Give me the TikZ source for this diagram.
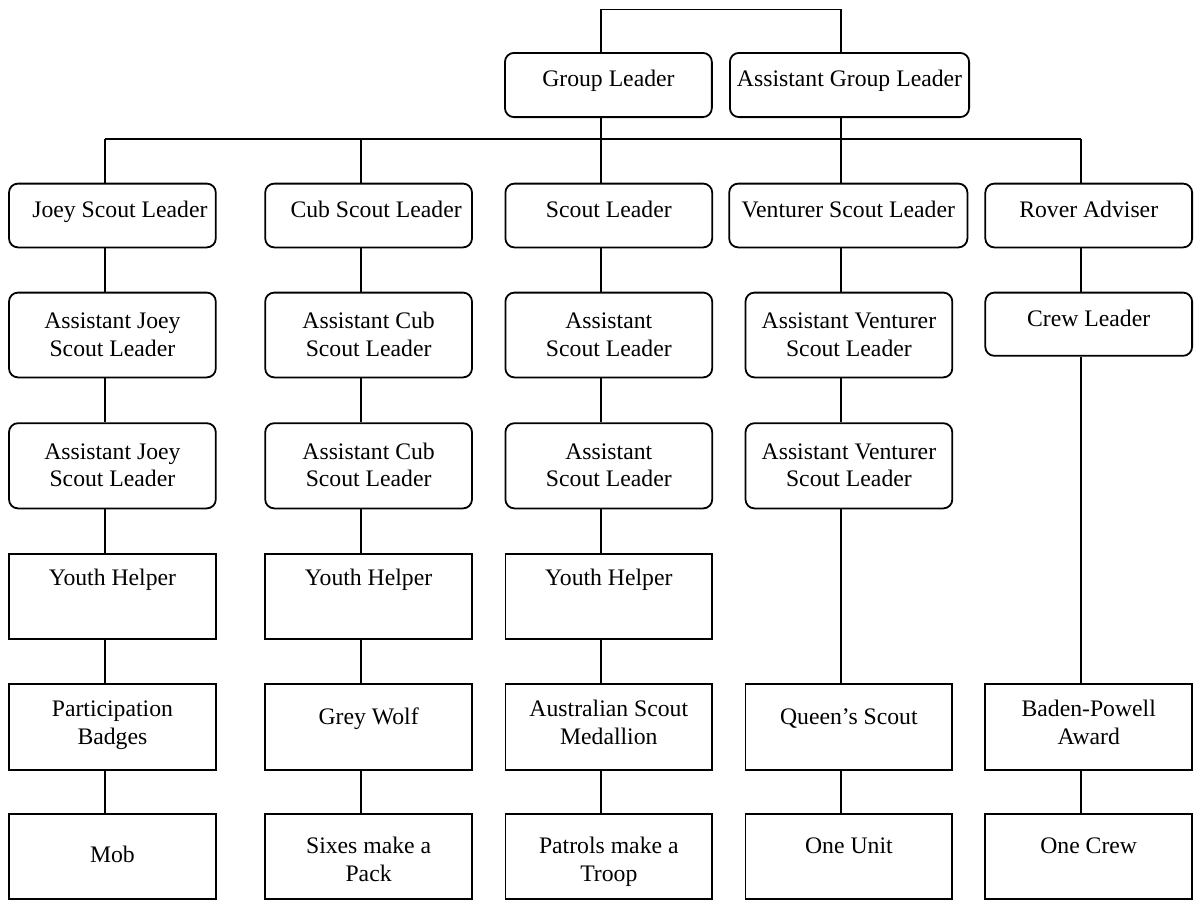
\documentclass[tikz,border=0pt]{standalone}
\usepackage{fontspec}
\setmainfont{Liberation Serif}
\newcommand\Tst{\rule{0pt}{17pt}}
\begin{document}
\begin{tikzpicture}[x=1pt,y=-1pt,
  rbox/.style={draw, rounded corners=9pt, line width=1.8pt, inner sep=0pt, minimum width=206.8pt},
  sbox/.style={draw, line width=1.8pt, inner sep=0pt, minimum width=206.8pt},
  link/.style={line width=1.7pt},
  txt/.style={anchor=north, inner sep=0pt, align=center, font=\fontsize{23.7}{27.6}\selectfont}]
\useasboundingbox (0,0) rectangle (1195,900);
% column line positions
\coordinate (c1) at (105,0);
\coordinate (c2) at (360.7,0);
\coordinate (c3) at (600.8,0);
\coordinate (c4) at (840.8,0);
\coordinate (c5) at (1080.8,0);
\coordinate (topbar) at (0,9.5);
\coordinate (midbar) at (0,139.3);
% top row
\node[rbox, minimum width=206.9pt, minimum height=64.2pt] (gl) at (608.4,85) {};
\node[rbox, minimum width=239.2pt, minimum height=64.2pt] (agl) at (849.5,85) {};
% leaders row
\node[rbox, minimum height=63.8pt] (joey) at (112.4,215.5) {};
\node[rbox, minimum height=63.8pt] (cub) at (368.6,215.5) {};
\node[rbox, minimum height=63.8pt] (scout) at (608.8,215.5) {};
\node[rbox, minimum width=238.2pt, minimum height=63.8pt] (vent) at (848.3,215.5) {};
\node[rbox, minimum height=63.8pt] (rover) at (1088.7,215.5) {};
% row 3
\node[rbox, minimum height=84.8pt] (ajoey1) at (112.4,335) {};
\node[rbox, minimum height=84.8pt] (acub1) at (368.6,335) {};
\node[rbox, minimum height=84.8pt] (ascout1) at (608.8,335) {};
\node[rbox, minimum height=84.8pt] (avent1) at (848.9,335) {};
\node[rbox, minimum height=63.2pt] (crew) at (1088.7,324.2) {};
% row 4
\node[rbox, minimum height=85.2pt] (ajoey2) at (112.4,465.8) {};
\node[rbox, minimum height=85.2pt] (acub2) at (368.6,465.8) {};
\node[rbox, minimum height=85.2pt] (ascout2) at (608.8,465.8) {};
\node[rbox, minimum height=85.2pt] (avent2) at (848.9,465.8) {};
% row 5
\node[sbox, minimum height=85pt] (yh1) at (112.4,596.1) {};
\node[sbox, minimum height=85pt] (yh2) at (368.6,596.1) {};
\node[sbox, minimum height=85pt] (yh3) at (608.8,596.1) {};
% row 6
\node[sbox, minimum height=85.6pt] (part) at (112.4,727) {};
\node[sbox, minimum height=85.6pt] (grey) at (368.6,727) {};
\node[sbox, minimum height=85.6pt] (medal) at (608.8,727) {};
\node[sbox, minimum height=85.6pt] (queen) at (848.9,727) {};
\node[sbox, minimum height=85.6pt] (bp) at (1088.7,727) {};
% row 7
\node[sbox, minimum height=84.6pt] (mob) at (112.4,856.6) {};
\node[sbox, minimum height=84.6pt] (pack) at (368.6,856.6) {};
\node[sbox, minimum height=84.6pt] (troop) at (608.8,856.6) {};
\node[sbox, minimum height=84.6pt] (unit) at (848.9,856.6) {};
\node[sbox, minimum height=84.6pt] (ocrew) at (1088.7,856.6) {};
% texts
\node[txt] (tgl) at ([yshift=-17pt]gl.north) {\Tst Group Leader};
\node[txt] (tagl) at ([yshift=-17pt]agl.north) {\Tst Assistant Group Leader};
\node[txt] (tjoey) at ([yshift=-18pt,xshift=7.5pt]joey.north) {\Tst Joey Scout Leader};
\node[txt] (tcub) at ([yshift=-18pt,xshift=7.5pt]cub.north) {\Tst Cub Scout Leader};
\node[txt] (tscout) at ([yshift=-18pt]scout.north) {\Tst Scout Leader};
\node[txt] (tvent) at ([yshift=-18pt]vent.north) {\Tst Venturer Scout Leader};
\node[txt] (trover) at ([yshift=-18pt]rover.north) {\Tst Rover Adviser};
\node[txt] (tajoey1) at ([yshift=-19.6pt]ajoey1.north) {\Tst Assistant Joey\\Scout Leader};
\node[txt] (tacub1) at ([yshift=-19.6pt]acub1.north) {\Tst Assistant Cub\\Scout Leader};
\node[txt] (tascout1) at ([yshift=-19.6pt]ascout1.north) {\Tst Assistant\\Scout Leader};
\node[txt] (tavent1) at ([yshift=-19.6pt]avent1.north) {\Tst Assistant Venturer\\Scout Leader};
\node[txt] (tcrew) at ([yshift=-18pt]crew.north) {\Tst Crew Leader};
\node[txt] (tajoey2) at ([yshift=-19.6pt]ajoey2.north) {\Tst Assistant Joey\\Scout Leader};
\node[txt] (tacub2) at ([yshift=-19.6pt]acub2.north) {\Tst Assistant Cub\\Scout Leader};
\node[txt] (tascout2) at ([yshift=-19.6pt]ascout2.north) {\Tst Assistant\\Scout Leader};
\node[txt] (tavent2) at ([yshift=-19.6pt]avent2.north) {\Tst Assistant Venturer\\Scout Leader};
\node[txt] (tyh1) at ([yshift=-16pt]yh1.north) {\Tst Youth Helper};
\node[txt] (tyh2) at ([yshift=-16pt]yh2.north) {\Tst Youth Helper};
\node[txt] (tyh3) at ([yshift=-16pt]yh3.north) {\Tst Youth Helper};
\node[txt] (tpart) at ([yshift=-16.4pt]part.north) {\Tst Participation\\Badges};
\node[txt] (tgrey) at ([yshift=-23.5pt]grey.north) {\Tst Grey Wolf};
\node[txt] (tmedal) at ([yshift=-16.4pt]medal.north) {\Tst Australian Scout\\Medallion};
\node[txt] (tqueen) at ([yshift=-23.5pt]queen.north) {\Tst Queen’s Scout};
\node[txt] (tbp) at ([yshift=-16.4pt]bp.north) {\Tst Baden-Powell\\Award};
\node[txt] (tmob) at ([yshift=-31.7pt]mob.north) {\Tst Mob};
\node[txt] (tpack) at ([yshift=-23pt]pack.north) {\Tst Sixes make a\\Pack};
\node[txt] (ttroop) at ([yshift=-23pt]troop.north) {\Tst Patrols make a\\Troop};
\node[txt] (tunit) at ([yshift=-23pt]unit.north) {\Tst One Unit};
\node[txt] (tocrew) at ([yshift=-23pt]ocrew.north) {\Tst One Crew};
% connectors
\draw[link] (gl.north -| c3) -- (c3 |- topbar) -- (c4 |- topbar) -- (agl.north -| c4);
\draw[link] (c1 |- midbar) -- (c5 |- midbar);
\draw[link] (gl.south -| c3) -- (scout.north -| c3);
\draw[link] (agl.south -| c4) -- (vent.north -| c4);
\draw[link] (c1 |- midbar) -- (joey.north -| c1);
\draw[link] (c2 |- midbar) -- (cub.north -| c2);
\draw[link] (c5 |- midbar) -- (rover.north -| c5);
% column 1
\draw[link] (joey.south -| c1) -- (ajoey1.north -| c1);
\draw[link] (ajoey1.south -| c1) -- (ajoey2.north -| c1);
\draw[link] (ajoey2.south -| c1) -- (yh1.north -| c1);
\draw[link] (yh1.south -| c1) -- (part.north -| c1);
\draw[link] (part.south -| c1) -- (mob.north -| c1);
% column 2
\draw[link] (cub.south -| c2) -- (acub1.north -| c2);
\draw[link] (acub1.south -| c2) -- (acub2.north -| c2);
\draw[link] (acub2.south -| c2) -- (yh2.north -| c2);
\draw[link] (yh2.south -| c2) -- (grey.north -| c2);
\draw[link] (grey.south -| c2) -- (pack.north -| c2);
% column 3
\draw[link] (scout.south -| c3) -- (ascout1.north -| c3);
\draw[link] (ascout1.south -| c3) -- (ascout2.north -| c3);
\draw[link] (ascout2.south -| c3) -- (yh3.north -| c3);
\draw[link] (yh3.south -| c3) -- (medal.north -| c3);
\draw[link] (medal.south -| c3) -- (troop.north -| c3);
% column 4
\draw[link] (vent.south -| c4) -- (avent1.north -| c4);
\draw[link] (avent1.south -| c4) -- (avent2.north -| c4);
\draw[link] (avent2.south -| c4) -- (queen.north -| c4);
\draw[link] (queen.south -| c4) -- (unit.north -| c4);
% column 5
\draw[link] (rover.south -| c5) -- (crew.north -| c5);
\draw[link] (crew.south -| c5) -- (bp.north -| c5);
\draw[link] (bp.south -| c5) -- (ocrew.north -| c5);
\end{tikzpicture}
\end{document}
